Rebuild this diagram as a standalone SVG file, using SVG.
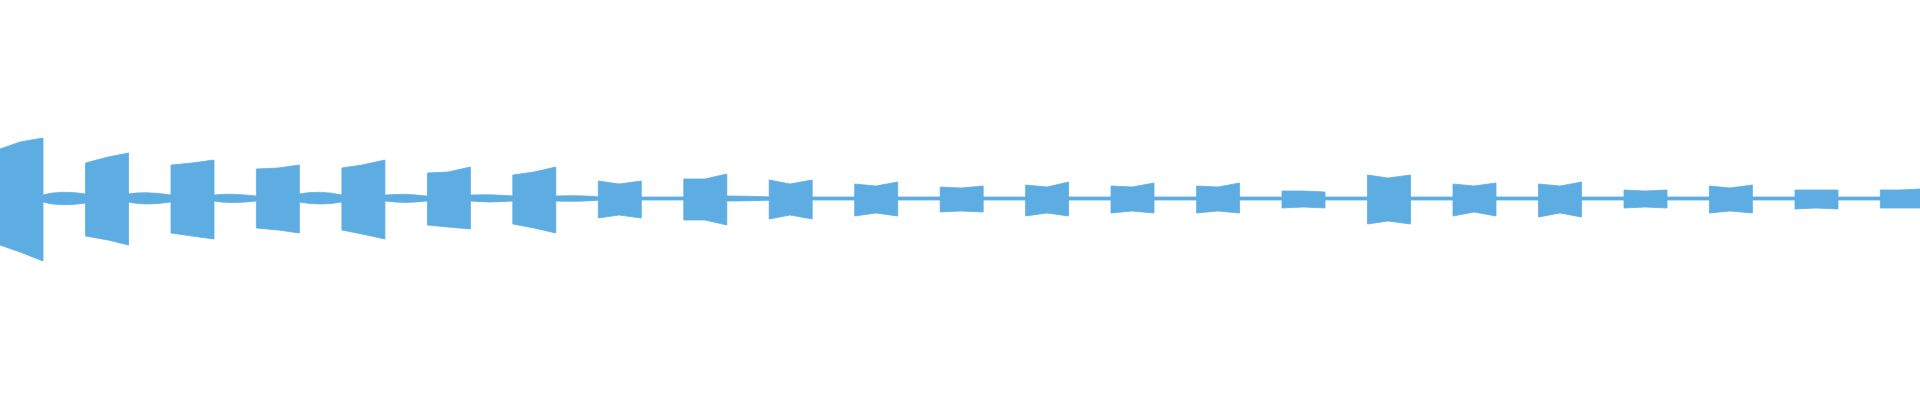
<svg xmlns="http://www.w3.org/2000/svg" width="1920" height="400" viewBox="0 0 1920 400">
<style>.w{fill:#5dade2;stroke:#5dade2;stroke-width:0.8}</style>
<rect width="1920" height="400" fill="#fff"/>
<g id="waveform" class="w">
<path d="M0 197 L1920 197 L1920 200 L0 200 Z"/>
<path d="M43 195 Q60 190 86 194 L86 203 Q60 207 43 202 Z"/>
<path d="M128 194 Q145 191 171 195 L171 202 Q145 206 128 202 Z"/>
<path d="M214 195 Q230 193 256 196 L256 201 Q230 204 214 201 Z"/>
<path d="M299 194 Q320 190 342 195 L342 202 Q320 206 299 202 Z"/>
<path d="M385 195 Q405 193 427 196 L427 201 Q405 204 385 201 Z"/>
<path d="M470 195 Q490 194 513 196 L513 201 Q490 203 470 201 Z"/>
<path d="M556 196 Q580 195 598 197 L598 200 Q580 202 556 201 Z"/>
<path d="M726 196 Q750 196 769 197 L769 200 Q750 201 726 201 Z"/>
<path d="M0 149 L20 142 L43 138 L43 261 L20 252 L0 245 Z"/>
<path d="M85.5 163 L108 157 L128.5 153 L128.5 245 L108 240 L85.5 236 Z"/>
<path d="M171 165 L192 163 L214 160 L214 239 L192 236 L171 233 Z"/>
<path d="M256.4 169 L278 168 L299.4 165 L299.4 233 L278 230 L256.4 228 Z"/>
<path d="M341.9 168 L362 165 L384.9 160 L384.9 239 L362 234 L341.9 230 Z"/>
<path d="M427.4 173 L448 172 L470.4 167 L470.4 229 L448 227 L427.4 225 Z"/>
<path d="M512.8 175 L534 172 L555.8 167 L555.8 233 L534 228 L512.8 224 Z"/>
<path d="M598.3 181 L619 184 L641.3 181 L641.3 218 L619 215 L598.3 218 Z"/>
<path d="M683.8 179 L705 179 L726.8 174 L726.8 225 L705 220 L683.8 220 Z"/>
<path d="M769.2 180 L790 184 L812.2 180 L812.2 219 L790 215 L769.2 219 Z"/>
<path d="M854.7 184 L876 186 L897.7 182 L897.7 216 L876 213 L854.7 216 Z"/>
<path d="M940.2 187 L961 188 L983.2 186 L983.2 212 L961 211 L940.2 212 Z"/>
<path d="M1025.6 185 L1047 187 L1068.6 182 L1068.6 216 L1047 213 L1025.6 216 Z"/>
<path d="M1111 186 L1132 187 L1154 183 L1154 213 L1132 211 L1111 213 Z"/>
<path d="M1196.6 186 L1218 187 L1239.6 183 L1239.6 213 L1218 211 L1196.6 213 Z"/>
<path d="M1282 191 L1303 191 L1325 192 L1325 208 L1303 207 L1282 208 Z"/>
<path d="M1367.5 175 L1388 178 L1410.5 175 L1410.5 224 L1388 221 L1367.5 224 Z"/>
<path d="M1453 184 L1474 186 L1496 183 L1496 216 L1474 212 L1453 216 Z"/>
<path d="M1538.5 184 L1560 186 L1581.5 182 L1581.5 217 L1560 213 L1538.5 217 Z"/>
<path d="M1624 190 L1645 191 L1667 190 L1667 208 L1645 207 L1624 208 Z"/>
<path d="M1709.4 186 L1730 188 L1752.4 185 L1752.4 213 L1730 211 L1709.4 213 Z"/>
<path d="M1795 190 L1816 190 L1838 190 L1838 209 L1816 208 L1795 209 Z"/>
<path d="M1880.3 190 L1900 190 L1920 189 L1920 208 L1900 208 L1880.3 208 Z"/>
</g>
</svg>
